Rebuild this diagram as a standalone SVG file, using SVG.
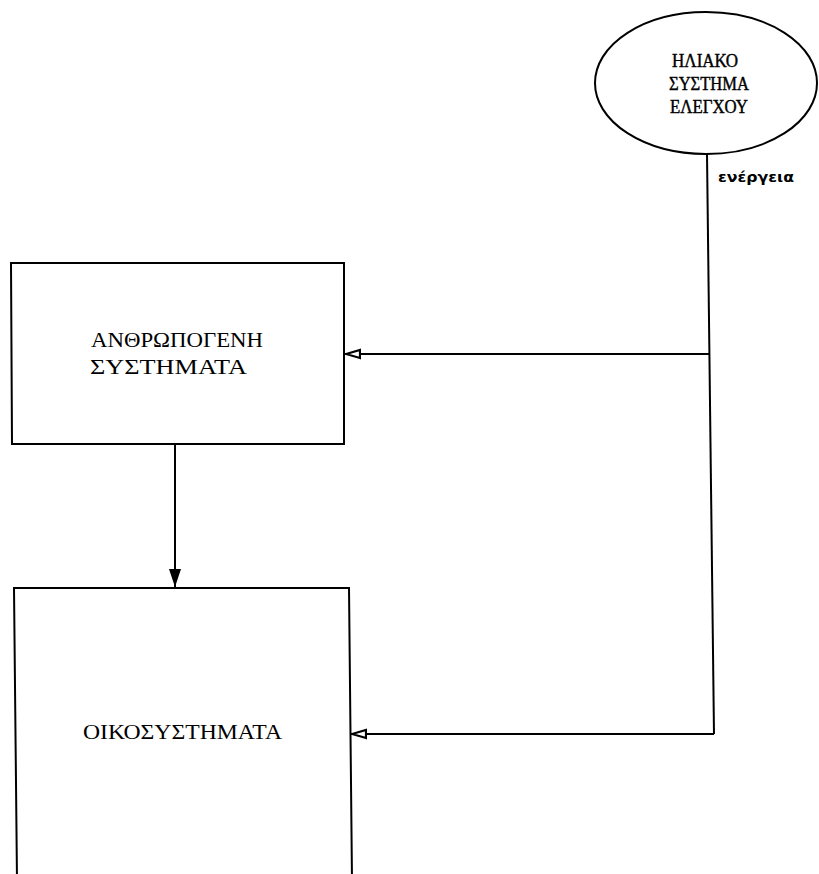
<svg xmlns="http://www.w3.org/2000/svg" width="819" height="874" viewBox="0 0 819 874">
<style>
.shape{fill:none;stroke:#000;stroke-width:2}
.line{fill:none;stroke:#000;stroke-width:2}
.lbl{font-family:"Liberation Serif","DejaVu Serif",serif;fill:#000}
.lbl2{font-family:"Liberation Serif","DejaVu Serif",serif;fill:#000;stroke:#000;stroke-width:0.4}
.edge{font-family:"DejaVu Sans","Liberation Sans",sans-serif;fill:#000;font-weight:bold}
</style>
<defs>
<marker id="open" viewBox="0 0 16 12" refX="16" refY="6" markerWidth="16" markerHeight="12" markerUnits="userSpaceOnUse" orient="auto">
<path d="M1,2 L15,6 L1,10 Z" fill="#fff" stroke="#000" stroke-width="2.2"/>
</marker>
<marker id="solid" viewBox="0 0 12 18" refX="6" refY="18" markerWidth="12" markerHeight="18" markerUnits="userSpaceOnUse" orient="0">
<path d="M0,0 L12,0 L6,18 Z" fill="#000"/>
</marker>
</defs>
<rect width="819" height="874" fill="#fff"/>
<g id="connectors">
<path class="line" d="M707,154 L714,734"/>
<path class="line" d="M709,354 L345,354" marker-end="url(#open)"/>
<path class="line" d="M714,734 L351,734" marker-end="url(#open)"/>
<path class="line" d="M175,444 L175,587" marker-end="url(#solid)"/>
<text class="edge" x="718" y="182" font-size="14" textLength="76" lengthAdjust="spacingAndGlyphs">ενέργεια</text>
</g>
<g id="node-solar">
<ellipse class="shape" cx="706" cy="83" rx="111" ry="71"/>
<text class="lbl2" x="705" y="67" font-size="18" text-anchor="middle" textLength="66" lengthAdjust="spacingAndGlyphs">ΗΛΙΑΚΟ</text>
<text class="lbl2" x="709" y="90" font-size="18" text-anchor="middle" textLength="80" lengthAdjust="spacingAndGlyphs">ΣΥΣΤΗΜΑ</text>
<text class="lbl2" x="709" y="113" font-size="18" text-anchor="middle" textLength="78" lengthAdjust="spacingAndGlyphs">ΕΛΕΓΧΟΥ</text>
</g>
<g id="node-anthropogenic">
<path class="shape" d="M11,263 L344,263 L344,444 L12,444 Z"/>
<text class="lbl" x="91" y="347" font-size="21" textLength="172" lengthAdjust="spacingAndGlyphs">ΑΝΘΡΩΠΟΓΕΝΗ</text>
<text class="lbl" x="90" y="374" font-size="21" textLength="157" lengthAdjust="spacingAndGlyphs">ΣΥΣΤΗΜΑΤΑ</text>
</g>
<g id="node-ecosystems">
<path class="shape" d="M17,880 L14,588 L349,588 L352,880"/>
<text class="lbl" x="83" y="739" font-size="21" textLength="199" lengthAdjust="spacingAndGlyphs">ΟΙΚΟΣΥΣΤΗΜΑΤΑ</text>
</g>
</svg>
